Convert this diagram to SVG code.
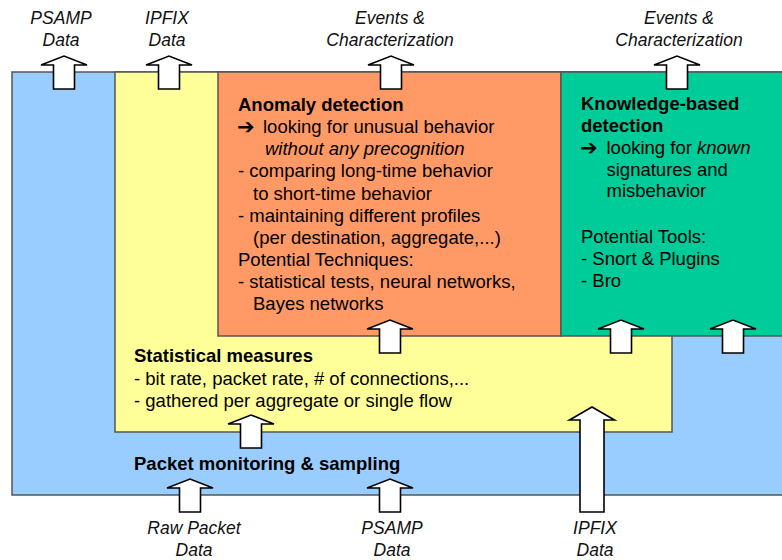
<svg xmlns="http://www.w3.org/2000/svg" width="782" height="560" viewBox="0 0 782 560">
<style>
.box{stroke:#555;stroke-width:1.5}
.arr{fill:#fff;stroke:#000;stroke-width:1.6;stroke-linejoin:miter}
.t{font-family:"Liberation Sans",Arial,"DejaVu Sans",sans-serif;font-size:18.5px;fill:#000}
.b{font-weight:bold}
.i{font-style:italic}
.sym{font-family:"DejaVu Sans",sans-serif;font-weight:bold;font-size:21px;fill:#000}
.lbl{font-family:"Liberation Sans",Arial,sans-serif;font-size:17.5px;font-style:italic;fill:#111;text-anchor:middle}
</style>
<defs>
<path id="ua" d="M-10.5,33 V9 H-23 L0,0 L23,9 H10.5 V33 Z"/>
</defs>
<rect width="782" height="560" fill="#fff"/>
<g id="packet-monitoring">
<rect class="box" x="12" y="72" width="790" height="423" fill="#99CCFF"/>
<text class="t b" x="134" y="470">Packet monitoring &amp; sampling</text>
</g>
<g id="statistical-measures">
<rect class="box" x="115" y="72" width="557" height="360" fill="#FFFF99"/>
<text class="t b" x="134" y="362">Statistical measures</text>
<text class="t" x="134" y="385">- bit rate, packet rate, # of connections,...</text>
<text class="t" x="134" y="407">- gathered per aggregate or single flow</text>
</g>
<g id="anomaly-detection">
<rect class="box" x="218" y="72" width="343" height="264" fill="#FF9966"/>
<text class="t b" x="238" y="110.5">Anomaly detection</text>
<text class="sym" x="237" y="134">➔</text>
<text class="t" x="263" y="133">looking for unusual behavior</text>
<text class="t i" x="265" y="155">without any precognition</text>
<text class="t" x="238" y="177">- comparing long-time behavior</text>
<text class="t" x="253" y="199.5">to short-time behavior</text>
<text class="t" x="238" y="222">- maintaining different profiles</text>
<text class="t" x="253" y="244">(per destination, aggregate,...)</text>
<text class="t" x="238" y="266">Potential Techniques:</text>
<text class="t" x="238" y="288">- statistical tests, neural networks,</text>
<text class="t" x="253" y="310">Bayes networks</text>
</g>
<g id="knowledge-based-detection">
<rect class="box" x="561" y="72" width="240" height="264" fill="#00CC99"/>
<text class="t b" x="581" y="110">Knowledge-based</text>
<text class="t b" x="581" y="132">detection</text>
<text class="sym" x="580" y="155">➔</text>
<text class="t" x="606.5" y="154">looking for <tspan font-style="italic">known</tspan></text>
<text class="t" x="606.5" y="176">signatures and</text>
<text class="t" x="606.5" y="197">misbehavior</text>
<text class="t" x="581" y="243">Potential Tools:</text>
<text class="t" x="581" y="265">- Snort &amp; Plugins</text>
<text class="t" x="581" y="287">- Bro</text>
</g>
<g id="connectors">
<use href="#ua" class="arr" x="64" y="56"/>
<use href="#ua" class="arr" x="169" y="56"/>
<use href="#ua" class="arr" x="391" y="56"/>
<use href="#ua" class="arr" x="677" y="56"/>
<use href="#ua" class="arr" x="390" y="320"/>
<use href="#ua" class="arr" x="621" y="320"/>
<use href="#ua" class="arr" x="733" y="320"/>
<use href="#ua" class="arr" x="251" y="415"/>
<use href="#ua" class="arr" x="190" y="479"/>
<use href="#ua" class="arr" x="390" y="479"/>
<path class="arr" d="M580,512 V420 H569.5 L592,407 L614.5,420 H604 V512 Z"/>
</g>
<g id="labels">
<text class="lbl" x="61" y="24">PSAMP</text>
<text class="lbl" x="61" y="46">Data</text>
<text class="lbl" x="167" y="24">IPFIX</text>
<text class="lbl" x="167" y="46">Data</text>
<text class="lbl" x="390" y="24">Events &amp;</text>
<text class="lbl" x="390" y="46">Characterization</text>
<text class="lbl" x="679" y="24">Events &amp;</text>
<text class="lbl" x="679" y="46">Characterization</text>
<text class="lbl" x="194" y="534">Raw Packet</text>
<text class="lbl" x="194" y="556">Data</text>
<text class="lbl" x="392" y="534">PSAMP</text>
<text class="lbl" x="392" y="556">Data</text>
<text class="lbl" x="595" y="534">IPFIX</text>
<text class="lbl" x="595" y="556">Data</text>
</g>
</svg>
